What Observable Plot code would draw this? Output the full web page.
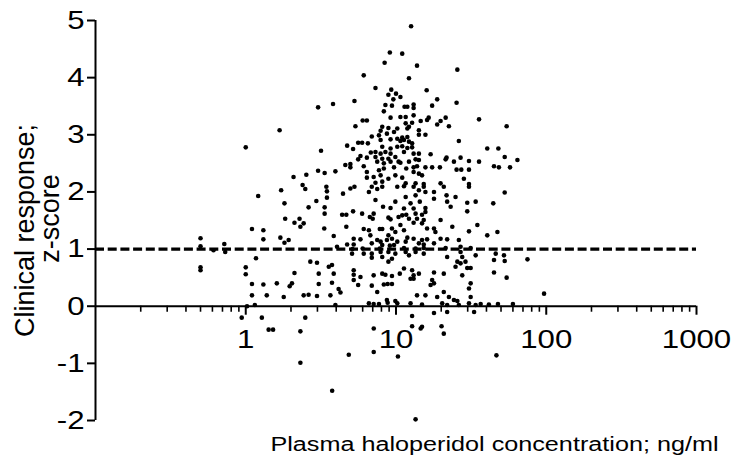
<!DOCTYPE html>
<html><head><meta charset="utf-8">
<script src="https://cdn.jsdelivr.net/npm/d3@7"></script>
<script src="https://cdn.jsdelivr.net/npm/@observablehq/plot@0.6"></script>
<style>
html,body{margin:0;padding:0;background:#fff;}
#chart{width:735px;height:459px;}
</style></head><body><div id="chart"></div>
<script>
// Plasma haloperidol concentration (ng/ml) and clinical response (z-score)
const conc = [
  // left part
  0.50,0.50,0.50,0.50,0.61,0.72,0.73,1.0,1.0,1.1,
  1.17,1.1,1.1,1.15,1.21,1.0,1.68,1.72,1.81,1.83,
  2.08,2.39,2.11,2.28,1.31,1.31,1.70,1.93,1.81,2.11,
  1.31,1.61,1.96,2.03,1.38,1.79,
  // top
  12.6,9.1,11.0,
  // 3-10 ng/ml, upper half
  8.4,6.1,7.3,9.3,8.9,10.0,9.6,3.03,3.81,5.29,
  8.5,9.4,8.3,9.2,6.0,6.4,5.37,8.1,8.9,10.2,
  7.9,6.9,7.7,8.7,9.7,7.9,9.2,10.2,5.6,5.95,
  6.5,4.73,5.18,8.1,9.2,10.2,3.17,6.8,7.3,7.9,
  8.5,9.2,5.8,6.4,7.3,8.1,5.6,8.9,9.9,4.6,
  4.97,4.97,6.1,7.5,8.3,9.2,10.4,6.4,7.7,8.3,
  9.7,2.53,3.03,3.35,3.95,6.4,7.1,7.9,8.9,9.9,
  7.3,8.1,
  // 10-50 ng/ml, upper half
  13.8,25.6,12.2,16.0,10.7,18.8,25.3,17.4,11.4,11.9,
  13.1,13.1,10.7,11.6,13.1,35.7,21.4,16.5,16.1,14.6,
  19.8,12.8,11.6,18.8,22.5,12.2,11.9,14.2,14.2,15.7,
  11.0,11.3,11.9,10.7,12.2,12.8,26.2,11.0,11.9,12.8,
  40.5,48.0,11.3,13.1,14.2,17.0,21.4,21.7,26.9,24.3,
  30.6,35.7,13.5,14.2,12.2,10.7,44.9,48.4,11.7,13.1,
  13.8,15.7,17.4,19.6,25.3,27.2,30.6,13.1,14.2,11.0,
  14.9,28.3,11.6,13.5,15.3,19.8,30.6,
  // 2-10 ng/ml, lower half
  2.49,3.44,3.47,4.44,4.97,5.29,6.6,6.9,7.5,8.1,
  10.2,3.47,2.95,7.3,9.9,2.62,3.35,8.2,9.2,3.35,
  4.38,4.67,5.18,5.95,6.7,7.0,7.1,8.9,9.2,10.4,
  2.31,2.43,3.33,4.67,6.1,6.6,7.8,8.1,9.4,9.9,
  3.85,5.23,5.8,6.75,7.5,7.9,8.7,8.9,9.4,10.2,
  4.73,5.23,6.9,8.1,9.1,9.7,4.05,6.0,7.8,5.13,
  5.10,6.1,6.9,7.9,8.9,9.9,2.69,2.98,6.9,8.1,
  9.4,3.57,3.75,8.9,3.06,3.85,5.23,5.23,5.8,7.1,
  8.1,8.5,9.4,10.6,3.06,3.75,5.23,5.6,6.9,8.3,
  8.8,9.4,4.15,4.27,7.5,2.43,2.62,2.98,3.66,8.7,
  9.9,6.6,7.1,7.7,8.8,10.2,
  // 10-50 ng/ml, lower half
  11.3,13.1,14.2,15.3,15.7,17.9,20.8,30.6,11.6,13.5,
  17.9,21.7,24.9,12.5,14.4,21.9,29.8,33.9,44.4,11.3,
  13.1,15.7,23.1,11.0,11.7,13.5,14.9,15.7,29.8,12.2,
  13.8,15.3,19.8,10.7,13.1,14.9,17.9,23.7,34.8,11.3,
  16.1,18.3,30.6,40.5,47.3,11.9,13.1,14.9,16.1,19.8,
  21.9,26.2,11.6,14.2,15.3,17.9,11.3,13.5,15.3,21.4,
  26.9,31.4,11.6,13.5,15.3,12.2,21.9,26.9,27.6,33.9,
  46.1,25.6,26.9,29.0,44.9,11.3,12.8,13.1,14.2,17.9,
  20.8,24.9,29.8,31.4,44.9,12.5,13.1,17.4,27.6,17.0,
  17.9,30.6,31.4,13.8,15.7,18.8,20.8,22.5,31.4,24.3,
  25.6,12.5,14.9,20.3,21.9,26.2,30.6,33.9,41.5,
  // right part and axis
  54.5,64.3,52.9,57.4,52.9,75.0,54.5,96.7,52.3,52.9,
  60.0,36.6,47.7,1.02,3.95,
  // below zero
  0.94,1.28,1.42,1.52,2.31,2.49,2.31,3.76,4.85,7.11,
  7.11,10.3,12.8,12.8,14.6,14.9,13.5,17.9,20.1,20.8,
  21.9,33.1,46.6
];
const zscore = [
  1.19,1.05,0.68,0.63,0.98,1.09,0.95,0.68,0.56,1.35,
  0.84,0.39,0.19,0.02,1.93,2.78,3.08,2.03,1.80,1.53,
  2.26,2.12,1.46,1.53,1.33,1.17,1.20,1.16,1.11,0.58,
  0.38,0.40,0.35,0.40,0.19,0.16,
  4.90,4.44,4.42,
  4.26,4.04,3.82,3.79,3.70,3.72,3.62,3.48,3.54,3.59,
  3.52,3.51,3.41,3.30,3.25,3.25,3.15,3.14,3.12,3.11,
  3.07,2.97,2.99,3.02,3.05,2.91,2.92,2.93,2.86,2.86,
  2.85,2.81,2.75,2.79,2.76,2.79,2.72,2.69,2.70,2.67,
  2.70,2.67,2.63,2.60,2.61,2.58,2.57,2.58,2.61,2.47,
  2.49,2.43,2.45,2.53,2.50,2.53,2.53,2.35,2.38,2.41,
  2.43,2.30,2.37,2.33,2.36,2.25,2.26,2.29,2.23,2.29,
  2.16,2.18,
  4.21,4.14,3.99,3.78,3.66,3.62,3.56,3.51,3.49,3.49,
  3.53,3.47,3.31,3.31,3.34,3.27,3.30,3.30,3.26,3.24,
  3.24,3.21,3.20,3.18,3.15,3.14,3.11,3.08,3.00,3.00,
  2.95,2.91,2.96,2.89,2.88,2.85,2.89,2.80,2.77,2.78,
  2.76,2.76,2.70,2.67,2.67,2.66,2.57,2.60,2.60,2.53,
  2.54,2.53,2.57,2.56,2.53,2.51,2.45,2.43,2.41,2.43,
  2.45,2.43,2.43,2.43,2.39,2.39,2.39,2.35,2.32,2.25,
  2.29,2.23,2.15,2.15,2.14,2.15,2.14,
  2.05,2.09,2.01,1.97,2.06,2.09,2.00,2.09,2.05,2.09,
  2.09,1.90,1.84,1.86,1.83,1.73,1.73,1.74,1.72,1.62,
  1.60,1.60,1.66,1.62,1.56,1.53,1.62,1.55,1.52,1.56,
  1.39,1.45,1.36,1.39,1.35,1.33,1.35,1.35,1.36,1.30,
  1.23,1.18,1.17,1.24,1.16,1.13,1.16,1.24,1.18,1.13,
  1.08,1.08,1.10,1.07,1.06,1.07,1.04,1.01,1.01,1.00,
  0.92,0.92,0.92,0.95,0.95,0.92,0.78,0.76,0.85,0.86,
  0.83,0.69,0.72,0.78,0.57,0.57,0.63,0.55,0.51,0.54,
  0.57,0.55,0.53,0.57,0.39,0.41,0.46,0.37,0.36,0.38,
  0.39,0.39,0.30,0.24,0.25,0.19,0.20,0.18,0.19,0.11,
  0.09,0.05,0.04,0.04,0.06,0.05,
  2.10,2.09,2.03,2.09,2.00,2.00,2.09,2.09,1.91,1.94,
  1.88,1.94,1.91,1.80,1.83,1.83,1.81,1.83,1.80,1.71,
  1.71,1.72,1.74,1.59,1.60,1.62,1.60,1.65,1.66,1.53,
  1.53,1.51,1.51,1.42,1.46,1.45,1.36,1.39,1.42,1.33,
  1.36,1.30,1.31,1.24,1.30,1.20,1.18,1.16,1.17,1.18,
  1.17,1.16,1.13,1.10,1.08,1.10,1.02,1.01,1.02,1.02,
  1.04,1.02,0.95,0.95,0.92,0.89,0.86,0.95,0.86,0.89,
  0.92,0.78,0.75,0.78,0.81,0.66,0.63,0.54,0.57,0.59,
  0.57,0.69,0.67,0.67,0.59,0.48,0.48,0.46,0.54,0.37,
  0.40,0.31,0.40,0.19,0.19,0.16,0.25,0.16,0.16,0.11,
  0.09,0.05,0.03,0.05,0.02,0.02,0.05,0.02,0.03,
  3.15,2.56,2.61,2.43,1.99,0.82,0.50,0.22,0.89,0.79,
  0.04,0.04,0.04,0.00,0.02,
  -0.20,-0.20,-0.41,-0.41,-0.44,-0.20,-0.99,-1.48,-0.85,-0.39,
  -0.80,-0.88,-0.17,-0.35,-0.39,-0.36,-1.98,-0.12,-0.35,-0.48,
  -0.10,-0.10,-0.86
];

const yTicks = [-2, -1, 0, 1, 2, 3, 4, 5];
const yTickLabels = ["-2", "-1", "0", "1", "2", "3", "4", "5"];
const xMajor = [1, 10, 100, 1000];
const xMajorLabels = ["1", "10", "100", "1000"];
const minorMultipliers = [2, 3, 4, 5, 6, 7, 8, 9];
const decades = [0.1, 1, 10, 100];
const refLevel = [1];
const yTitleLines = ["Clinical response;", "z-score"];
const xTitle = "Plasma haloperidol concentration; ng/ml";

const xMinor = decades.flatMap(d => minorMultipliers.map(m => +(m * d).toPrecision(3)));
const data = conc.map((c, i) => ({conc: c, z: zscore[i]}));

const W = 735, H = 459, ML = 95, MR = 39, MT = 20, MB = 39;
const xDomain = [0.1, 1000], yDomain = [-2, 5];
const pxPerDecade = (W - ML - MR) / 4;
const pxPerUnit = (H - MT - MB) / 7;
const xLeftOf = px => xDomain[0] * 10 ** (-px / pxPerDecade);
const yBelow = px => -px / pxPerUnit;
const FONT = "Liberation Sans, Arial, Helvetica, sans-serif";

const chart = Plot.plot({
  width: W, height: H,
  marginLeft: ML, marginRight: MR, marginTop: MT, marginBottom: MB,
  style: {background: "#fff", fontFamily: FONT, color: "#000"},
  x: {type: "log", domain: xDomain, axis: null},
  y: {domain: yDomain, axis: null},
  marks: [
    // reference line
    Plot.ruleY(refLevel, {y: d => d, x1: () => xDomain[0], x2: () => xDomain[1], stroke: "#000", strokeWidth: 3.2, strokeDasharray: "9,3.7"}),
    // y axis
    Plot.ruleX([xDomain[0]], {x: d => d, y1: () => yDomain[0], y2: () => yDomain[1], stroke: "#000", strokeWidth: 2}),
    Plot.ruleY(yTicks, {y: d => d, x1: () => xLeftOf(8), x2: () => xDomain[0], stroke: "#000", strokeWidth: 2}),
    Plot.text(yTicks, {y: d => d, text: (d, i) => yTickLabels[i], frameAnchor: "left", textAnchor: "end", lineAnchor: "middle", dx: -11, fontSize: 26, fontFamily: FONT}),
    // x axis at zero
    Plot.ruleY([0], {y: d => d, x1: () => xDomain[0], x2: () => xDomain[1], stroke: "#000", strokeWidth: 2}),
    Plot.ruleX(xMajor, {x: d => d, y1: () => 0, y2: () => yBelow(9), stroke: "#000", strokeWidth: 2}),
    Plot.ruleX(xMinor, {x: d => d, y1: () => 0, y2: () => yBelow(6), stroke: "#000", strokeWidth: 1.6}),
    Plot.text(xMajor, {x: d => d, y: () => 0, text: (d, i) => xMajorLabels[i], textAnchor: "middle", lineAnchor: "middle", dy: 33, fontSize: 26, fontFamily: FONT}),
    // points
    Plot.dot(data, {x: "conc", y: "z", r: 2.3, fill: "#000", stroke: "none"}),
    // titles
    Plot.text([yTitleLines[0]], {text: d => d, frameAnchor: "left", textAnchor: "middle", lineAnchor: "middle", rotate: -90, dx: 25 - ML, dy: 10, fontSize: 27, fontFamily: FONT}),
    Plot.text([yTitleLines[1]], {text: d => d, frameAnchor: "left", textAnchor: "middle", lineAnchor: "middle", rotate: -90, dx: 50 - ML, dy: -2, fontSize: 27, fontFamily: FONT}),
    Plot.text([xTitle], {text: d => d, frameAnchor: "bottom-right", textAnchor: "end", lineAnchor: "middle", dx: 22, dy: 23.5, fontSize: 21, fontFamily: FONT})
  ]
});

// the reference typography is horizontally wide: stretch the upright labels about their anchors
chart.querySelectorAll("text").forEach(t => {
  const tr = t.getAttribute("transform") || "";
  if (tr.includes("rotate")) return;
  t.setAttribute("transform", (tr + " scale(1.2,1)").trim());
});

document.getElementById("chart").appendChild(chart);
</script></body></html>
